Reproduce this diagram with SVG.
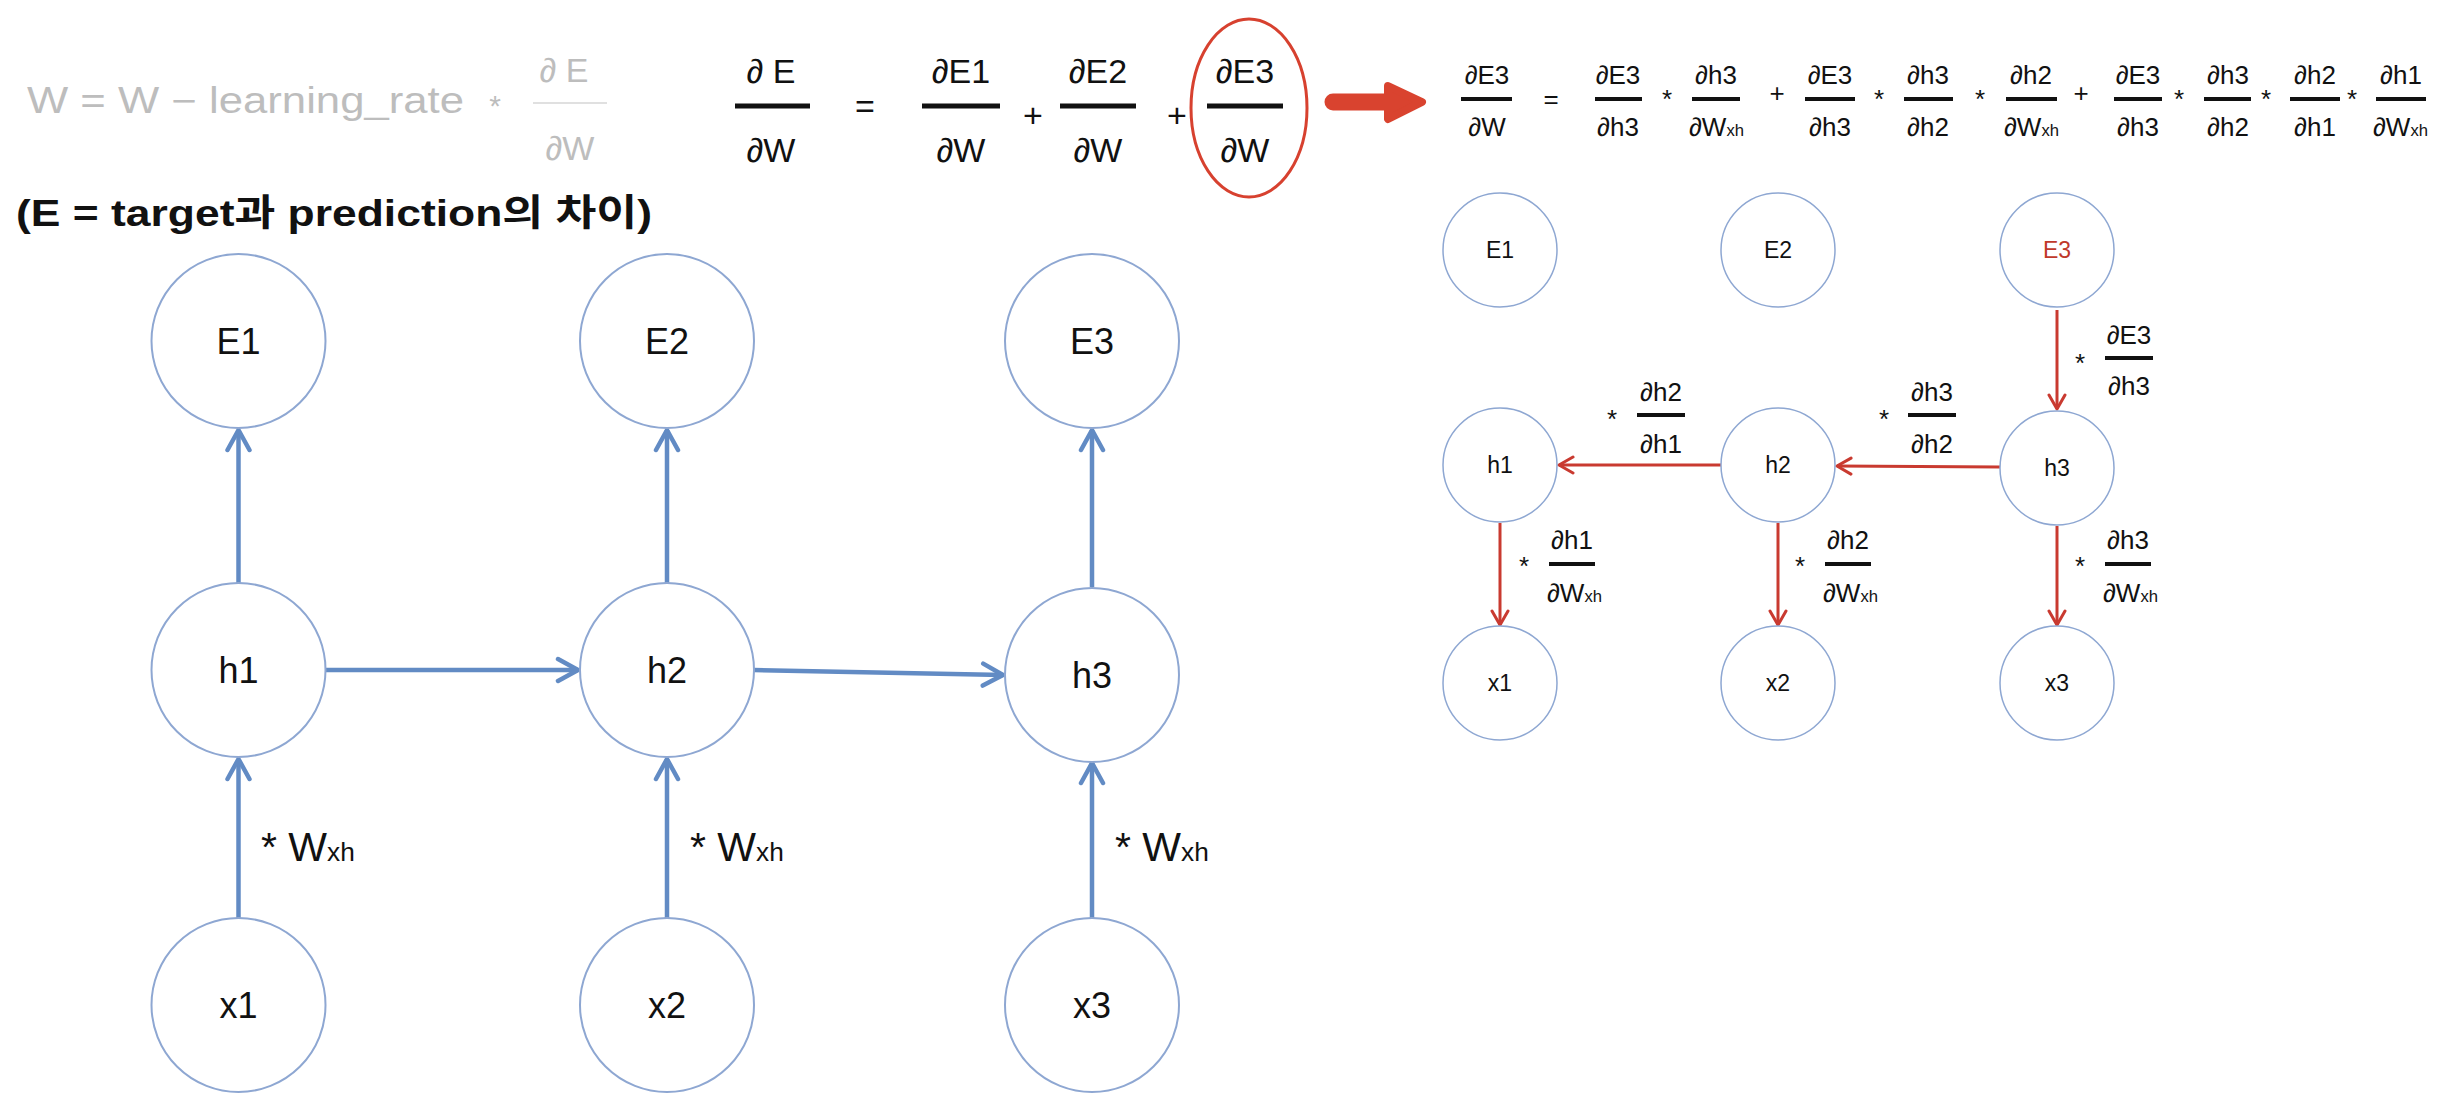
<svg xmlns="http://www.w3.org/2000/svg" width="2454" height="1104" viewBox="0 0 2454 1104">
<defs>
<style>
text{font-family:"Liberation Sans","DejaVu Sans",sans-serif;fill:#111}
.gray{fill:#bdbdbd}
.mid{font-size:34px;text-anchor:middle}
.sm{font-size:26px;text-anchor:middle}
.sml{font-size:26px}
.node-l{font-size:36px;text-anchor:middle}
.node-r{font-size:23px;text-anchor:middle}
.cl{fill:#fff;stroke:#8ea7d2;stroke-width:2}
.cr{fill:#fff;stroke:#8ea7d2;stroke-width:1.5}
.blue{stroke:#628bc4;stroke-width:4.5;fill:none}
.red{stroke:#c93a30;stroke-width:3;fill:none}
.sub{font-size:0.64em}
.wl{font-size:41px}
</style>
<marker id="ab" markerUnits="userSpaceOnUse" viewBox="0 0 26 28" markerWidth="26" markerHeight="28" refX="23" refY="14" orient="auto">
<path d="M3,3 L23,14 L3,25" fill="none" stroke="#628bc4" stroke-width="4.5" stroke-linecap="round" stroke-linejoin="round"/>
</marker>
<marker id="ar" markerUnits="userSpaceOnUse" viewBox="0 0 18 20" markerWidth="18" markerHeight="20" refX="16" refY="10" orient="auto">
<path d="M2,2 L16,10 L2,18" fill="none" stroke="#c93a30" stroke-width="3" stroke-linecap="round" stroke-linejoin="round"/>
</marker>
</defs>
<rect width="2454" height="1104" fill="#fff"/>

<!-- Top-left gray formula -->
<g id="update-rule">
<text class="gray" x="27" y="113" font-size="36" textLength="437" lengthAdjust="spacingAndGlyphs">W = W − learning_rate</text>
<text class="gray" x="495" y="116" font-size="30" text-anchor="middle">*</text>
<text class="gray mid" x="564" y="82">∂ E</text>
<rect x="533" y="102" width="74" height="2" fill="#e0e0e0"/>
<text class="gray mid" x="570" y="160">∂W</text>
</g>
<g id="note">
<text x="16" y="226" font-size="37" font-weight="bold" textLength="636" lengthAdjust="spacingAndGlyphs" style="font-family:'Liberation Sans','Noto Sans CJK KR',sans-serif">(E = target과 prediction의 차이)</text>
</g>

<!-- Middle formula -->
<g id="sum-formula">
<text class="mid" x="771" y="83">∂ E</text>
<rect x="735" y="103.5" width="75" height="5" fill="#111"/>
<text class="mid" x="771" y="162">∂W</text>
<text class="mid" x="865" y="118">=</text>
<text class="mid" x="961" y="83">∂E1</text>
<rect x="922" y="103.5" width="78" height="5" fill="#111"/>
<text class="mid" x="961" y="162">∂W</text>
<text class="mid" x="1033" y="127">+</text>
<text class="mid" x="1098" y="83">∂E2</text>
<rect x="1060" y="103.5" width="76" height="5" fill="#111"/>
<text class="mid" x="1098" y="162">∂W</text>
<text class="mid" x="1177" y="127">+</text>
<text class="mid" x="1245" y="83">∂E3</text>
<rect x="1207" y="103.5" width="76" height="5" fill="#111"/>
<text class="mid" x="1245" y="162">∂W</text>
<ellipse cx="1249" cy="108" rx="58" ry="89" fill="none" stroke="#d7412f" stroke-width="3"/>
</g>

<!-- Big red arrow -->
<g id="big-arrow">
<line x1="1333" y1="102" x2="1392" y2="102" stroke="#d9432f" stroke-width="17" stroke-linecap="round"/>
<path d="M1388,86 L1422,102 L1388,119 Z" fill="#d9432f" stroke="#d9432f" stroke-width="8" stroke-linejoin="round"/>
</g>

<!-- Top-right chain rule formula -->
<g id="chain-formula">
<text class="sm" x="1487" y="84">∂E3</text>
<rect x="1461" y="97" width="51" height="4" fill="#111"/>
<text class="sm" x="1487" y="136">∂W</text>
<text class="sm" x="1551" y="108">=</text>

<text class="sm" x="1618" y="84">∂E3</text>
<rect x="1595" y="97" width="47" height="4" fill="#111"/>
<text class="sm" x="1618" y="136">∂h3</text>
<text class="sm" x="1667" y="108">*</text>

<text class="sm" x="1716" y="84">∂h3</text>
<rect x="1692" y="97" width="48" height="4" fill="#111"/>
<text class="sml" x="1689" y="136">∂W<tspan class="sub">xh</tspan></text>
<text class="sm" x="1777" y="102">+</text>

<text class="sm" x="1830" y="84">∂E3</text>
<rect x="1805" y="97" width="50" height="4" fill="#111"/>
<text class="sm" x="1830" y="136">∂h3</text>
<text class="sm" x="1879" y="108">*</text>

<text class="sm" x="1928" y="84">∂h3</text>
<rect x="1904" y="97" width="49" height="4" fill="#111"/>
<text class="sm" x="1928" y="136">∂h2</text>
<text class="sm" x="1980" y="108">*</text>

<text class="sm" x="2031" y="84">∂h2</text>
<rect x="2006" y="97" width="51" height="4" fill="#111"/>
<text class="sml" x="2004" y="136">∂W<tspan class="sub">xh</tspan></text>
<text class="sm" x="2081" y="102">+</text>

<text class="sm" x="2138" y="84">∂E3</text>
<rect x="2114" y="97" width="48" height="4" fill="#111"/>
<text class="sm" x="2138" y="136">∂h3</text>
<text class="sm" x="2179" y="108">*</text>

<text class="sm" x="2228" y="84">∂h3</text>
<rect x="2204" y="97" width="47" height="4" fill="#111"/>
<text class="sm" x="2228" y="136">∂h2</text>
<text class="sm" x="2266" y="108">*</text>

<text class="sm" x="2315" y="84">∂h2</text>
<rect x="2290" y="97" width="50" height="4" fill="#111"/>
<text class="sm" x="2315" y="136">∂h1</text>
<text class="sm" x="2352" y="108">*</text>

<text class="sm" x="2401" y="84">∂h1</text>
<rect x="2376" y="97" width="50" height="4" fill="#111"/>
<text class="sml" x="2373" y="136">∂W<tspan class="sub">xh</tspan></text>
</g>

<!-- Left RNN connectors -->
<g id="left-connectors">
<line class="blue" x1="238.5" y1="583" x2="238.5" y2="430" marker-end="url(#ab)"/>
<line class="blue" x1="667" y1="583" x2="667" y2="430" marker-end="url(#ab)"/>
<line class="blue" x1="1092" y1="587" x2="1092" y2="430" marker-end="url(#ab)"/>
<line class="blue" x1="238.5" y1="918" x2="238.5" y2="759" marker-end="url(#ab)"/>
<line class="blue" x1="667" y1="918" x2="667" y2="759" marker-end="url(#ab)"/>
<line class="blue" x1="1092" y1="918" x2="1092" y2="763" marker-end="url(#ab)"/>
<line class="blue" x1="326" y1="670" x2="578" y2="670" marker-end="url(#ab)"/>
<line class="blue" x1="754" y1="670" x2="1003" y2="675" marker-end="url(#ab)"/>
<text class="wl" x="261" y="861">* W<tspan class="sub">xh</tspan></text>
<text class="wl" x="690" y="861">* W<tspan class="sub">xh</tspan></text>
<text class="wl" x="1115" y="861">* W<tspan class="sub">xh</tspan></text>
</g>

<!-- Left RNN nodes -->
<g id="L-E1"><circle class="cl" cx="238.5" cy="341" r="87"/><text class="node-l" x="238.5" y="354">E1</text></g>
<g id="L-E2"><circle class="cl" cx="667" cy="341" r="87"/><text class="node-l" x="667" y="354">E2</text></g>
<g id="L-E3"><circle class="cl" cx="1092" cy="341" r="87"/><text class="node-l" x="1092" y="354">E3</text></g>
<g id="L-h1"><circle class="cl" cx="238.5" cy="670" r="87"/><text class="node-l" x="238.5" y="683">h1</text></g>
<g id="L-h2"><circle class="cl" cx="667" cy="670" r="87"/><text class="node-l" x="667" y="683">h2</text></g>
<g id="L-h3"><circle class="cl" cx="1092" cy="675" r="87"/><text class="node-l" x="1092" y="688">h3</text></g>
<g id="L-x1"><circle class="cl" cx="238.5" cy="1005" r="87"/><text class="node-l" x="238.5" y="1018">x1</text></g>
<g id="L-x2"><circle class="cl" cx="667" cy="1005" r="87"/><text class="node-l" x="667" y="1018">x2</text></g>
<g id="L-x3"><circle class="cl" cx="1092" cy="1005" r="87"/><text class="node-l" x="1092" y="1018">x3</text></g>

<!-- Right backprop connectors -->
<g id="right-connectors">
<line class="red" x1="2057" y1="310" x2="2057" y2="409" marker-end="url(#ar)"/>
<line class="red" x1="2000" y1="467" x2="1837" y2="466" marker-end="url(#ar)"/>
<line class="red" x1="1721" y1="465" x2="1559" y2="465" marker-end="url(#ar)"/>
<line class="red" x1="1500" y1="523" x2="1500" y2="625" marker-end="url(#ar)"/>
<line class="red" x1="1778" y1="523" x2="1778" y2="625" marker-end="url(#ar)"/>
<line class="red" x1="2057" y1="526" x2="2057" y2="625" marker-end="url(#ar)"/>

<text class="sm" x="2080" y="372">*</text>
<text class="sm" x="2129" y="344">∂E3</text>
<rect x="2105" y="356" width="48" height="4" fill="#111"/>
<text class="sm" x="2129" y="395">∂h3</text>

<text class="sm" x="1884" y="428">*</text>
<text class="sm" x="1932" y="401">∂h3</text>
<rect x="1908" y="413" width="48" height="4" fill="#111"/>
<text class="sm" x="1932" y="453">∂h2</text>

<text class="sm" x="1612" y="428">*</text>
<text class="sm" x="1661" y="401">∂h2</text>
<rect x="1637" y="413" width="48" height="4" fill="#111"/>
<text class="sm" x="1661" y="453">∂h1</text>

<text class="sm" x="1524" y="575">*</text>
<text class="sm" x="1572" y="549">∂h1</text>
<rect x="1549" y="562" width="46" height="4" fill="#111"/>
<text class="sml" x="1547" y="602">∂W<tspan class="sub">xh</tspan></text>

<text class="sm" x="1800" y="575">*</text>
<text class="sm" x="1848" y="549">∂h2</text>
<rect x="1825" y="562" width="46" height="4" fill="#111"/>
<text class="sml" x="1823" y="602">∂W<tspan class="sub">xh</tspan></text>

<text class="sm" x="2080" y="575">*</text>
<text class="sm" x="2128" y="549">∂h3</text>
<rect x="2105" y="562" width="46" height="4" fill="#111"/>
<text class="sml" x="2103" y="602">∂W<tspan class="sub">xh</tspan></text>
</g>

<!-- Right backprop nodes -->
<g id="R-E1"><circle class="cr" cx="1500" cy="250" r="57"/><text class="node-r" x="1500" y="258">E1</text></g>
<g id="R-E2"><circle class="cr" cx="1778" cy="250" r="57"/><text class="node-r" x="1778" y="258">E2</text></g>
<g id="R-E3"><circle class="cr" cx="2057" cy="250" r="57"/><text class="node-r" x="2057" y="258" style="fill:#c0392b">E3</text></g>
<g id="R-h1"><circle class="cr" cx="1500" cy="465" r="57"/><text class="node-r" x="1500" y="473">h1</text></g>
<g id="R-h2"><circle class="cr" cx="1778" cy="465" r="57"/><text class="node-r" x="1778" y="473">h2</text></g>
<g id="R-h3"><circle class="cr" cx="2057" cy="468" r="57"/><text class="node-r" x="2057" y="476">h3</text></g>
<g id="R-x1"><circle class="cr" cx="1500" cy="683" r="57"/><text class="node-r" x="1500" y="691">x1</text></g>
<g id="R-x2"><circle class="cr" cx="1778" cy="683" r="57"/><text class="node-r" x="1778" y="691">x2</text></g>
<g id="R-x3"><circle class="cr" cx="2057" cy="683" r="57"/><text class="node-r" x="2057" y="691">x3</text></g>
</svg>
